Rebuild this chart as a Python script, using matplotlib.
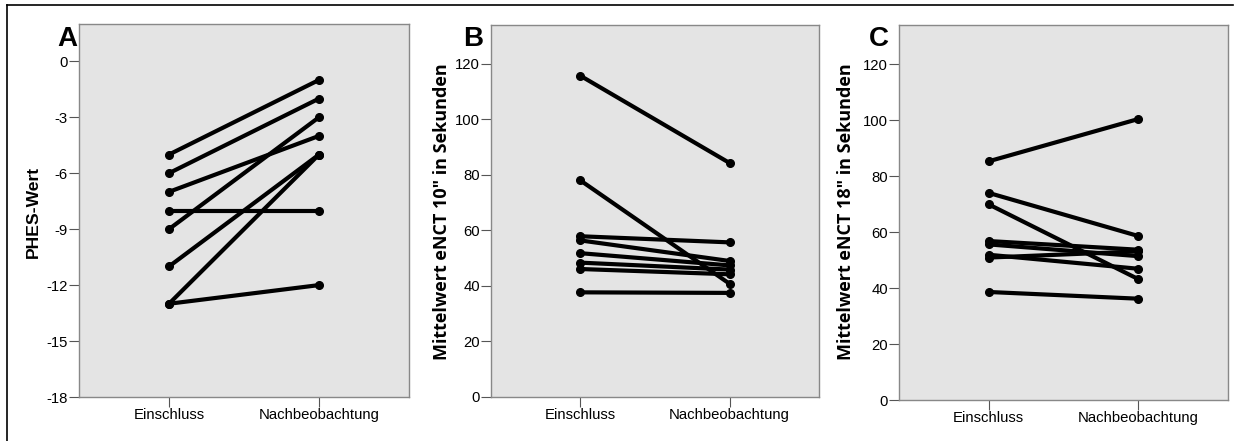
import matplotlib
matplotlib.use('Agg')
import matplotlib.pyplot as plt
from matplotlib.lines import Line2D

W, H = 1243, 441

categories = ['Einschluss', 'Nachbeobachtung']

# Panel A: PHES-Wert
phes_ein = [-5, -6, -7, -8, -9, -11, -13, -13]
phes_nach = [-1, -2, -4, -8, -3, -5, -5, -12]

# Panel B: eNCT 10"
enct10_ein = [115.7, 78.0, 57.9, 56.4, 51.8, 48.4, 46.1, 37.7]
enct10_nach = [84.3, 40.8, 55.7, 49.0, 47.4, 45.9, 44.2, 37.5]

# Panel C: eNCT 18"
enct18_ein = [85.3, 74.0, 69.9, 56.8, 55.6, 51.9, 50.9, 38.6]
enct18_nach = [100.4, 58.6, 43.2, 53.7, 51.4, 46.9, 53.1, 36.2]

panels = [
    dict(ein=phes_ein, nach=phes_nach, ylim=(-18, 2), ticks=range(-18, 1, 3),
         letter='A', ylabel='PHES-Wert', box=(79, 409, 24, 397),
         letter_x=77, label_x=33, label_font='Liberation Sans', label_size=12.6),
    dict(ein=enct10_ein, nach=enct10_nach, ylim=(0, 134), ticks=range(0, 121, 20),
         letter='B', ylabel='Mittelwert eNCT 10" in Sekunden', box=(491, 819, 25, 397),
         letter_x=483, label_x=442, label_font='Open Sans', label_size=13.0),
    dict(ein=enct18_ein, nach=enct18_nach, ylim=(0, 134), ticks=range(0, 121, 20),
         letter='C', ylabel='Mittelwert eNCT 18" in Sekunden', box=(899, 1228, 25, 400),
         letter_x=889, label_x=846, label_font='Open Sans', label_size=13.0),
]

fig = plt.figure(figsize=(W / 100, H / 100), dpi=100)
fig.patch.set_facecolor('white')

for p in panels:
    x0, x1, y0, y1 = p['box']
    ax = fig.add_axes([x0 / W, 1 - y1 / H, (x1 - x0) / W, (y1 - y0) / H])
    ax.set_facecolor('#e4e4e4')
    for e, n in zip(p['ein'], p['nach']):
        ax.plot([0, 1], [e, n], color='black', lw=3.0, solid_capstyle='round',
                marker='o', markersize=5.5, markerfacecolor='black', markeredgecolor='black')
    ax.set_xlim(-0.6, 1.6)
    ax.set_ylim(*p['ylim'])
    ax.set_xticks([0, 1])
    ax.set_xticklabels(categories, fontfamily='Liberation Sans', fontsize=10.7)
    ax.set_yticks(list(p['ticks']))
    ax.set_yticklabels([str(t) for t in p['ticks']], fontfamily='Liberation Sans', fontsize=10.7)
    ax.tick_params(length=7, width=0.8, color='#555555', pad=1)
    for s in ax.spines.values():
        s.set_color('#888888')
        s.set_linewidth(1.0)
    fig.text(p['letter_x'] / W, 1 - 26 / H, p['letter'], fontsize=20, fontweight='bold',
             fontfamily='Liberation Sans', ha='right', va='top')
    fig.text(p['label_x'] / W, 1 - 212 / H, p['ylabel'], rotation=90, fontsize=p['label_size'],
             fontweight='bold', fontfamily=p['label_font'], ha='center', va='center')

# outer frame (top and left edges)
fig.add_artist(Line2D([7 / W, 1233 / W], [1 - 5 / H, 1 - 5 / H], color='black', lw=1.2))
fig.add_artist(Line2D([7 / W, 7 / W], [0, 1 - 5 / H], color='black', lw=1.2))

fig.savefig('out.png', dpi=100)
